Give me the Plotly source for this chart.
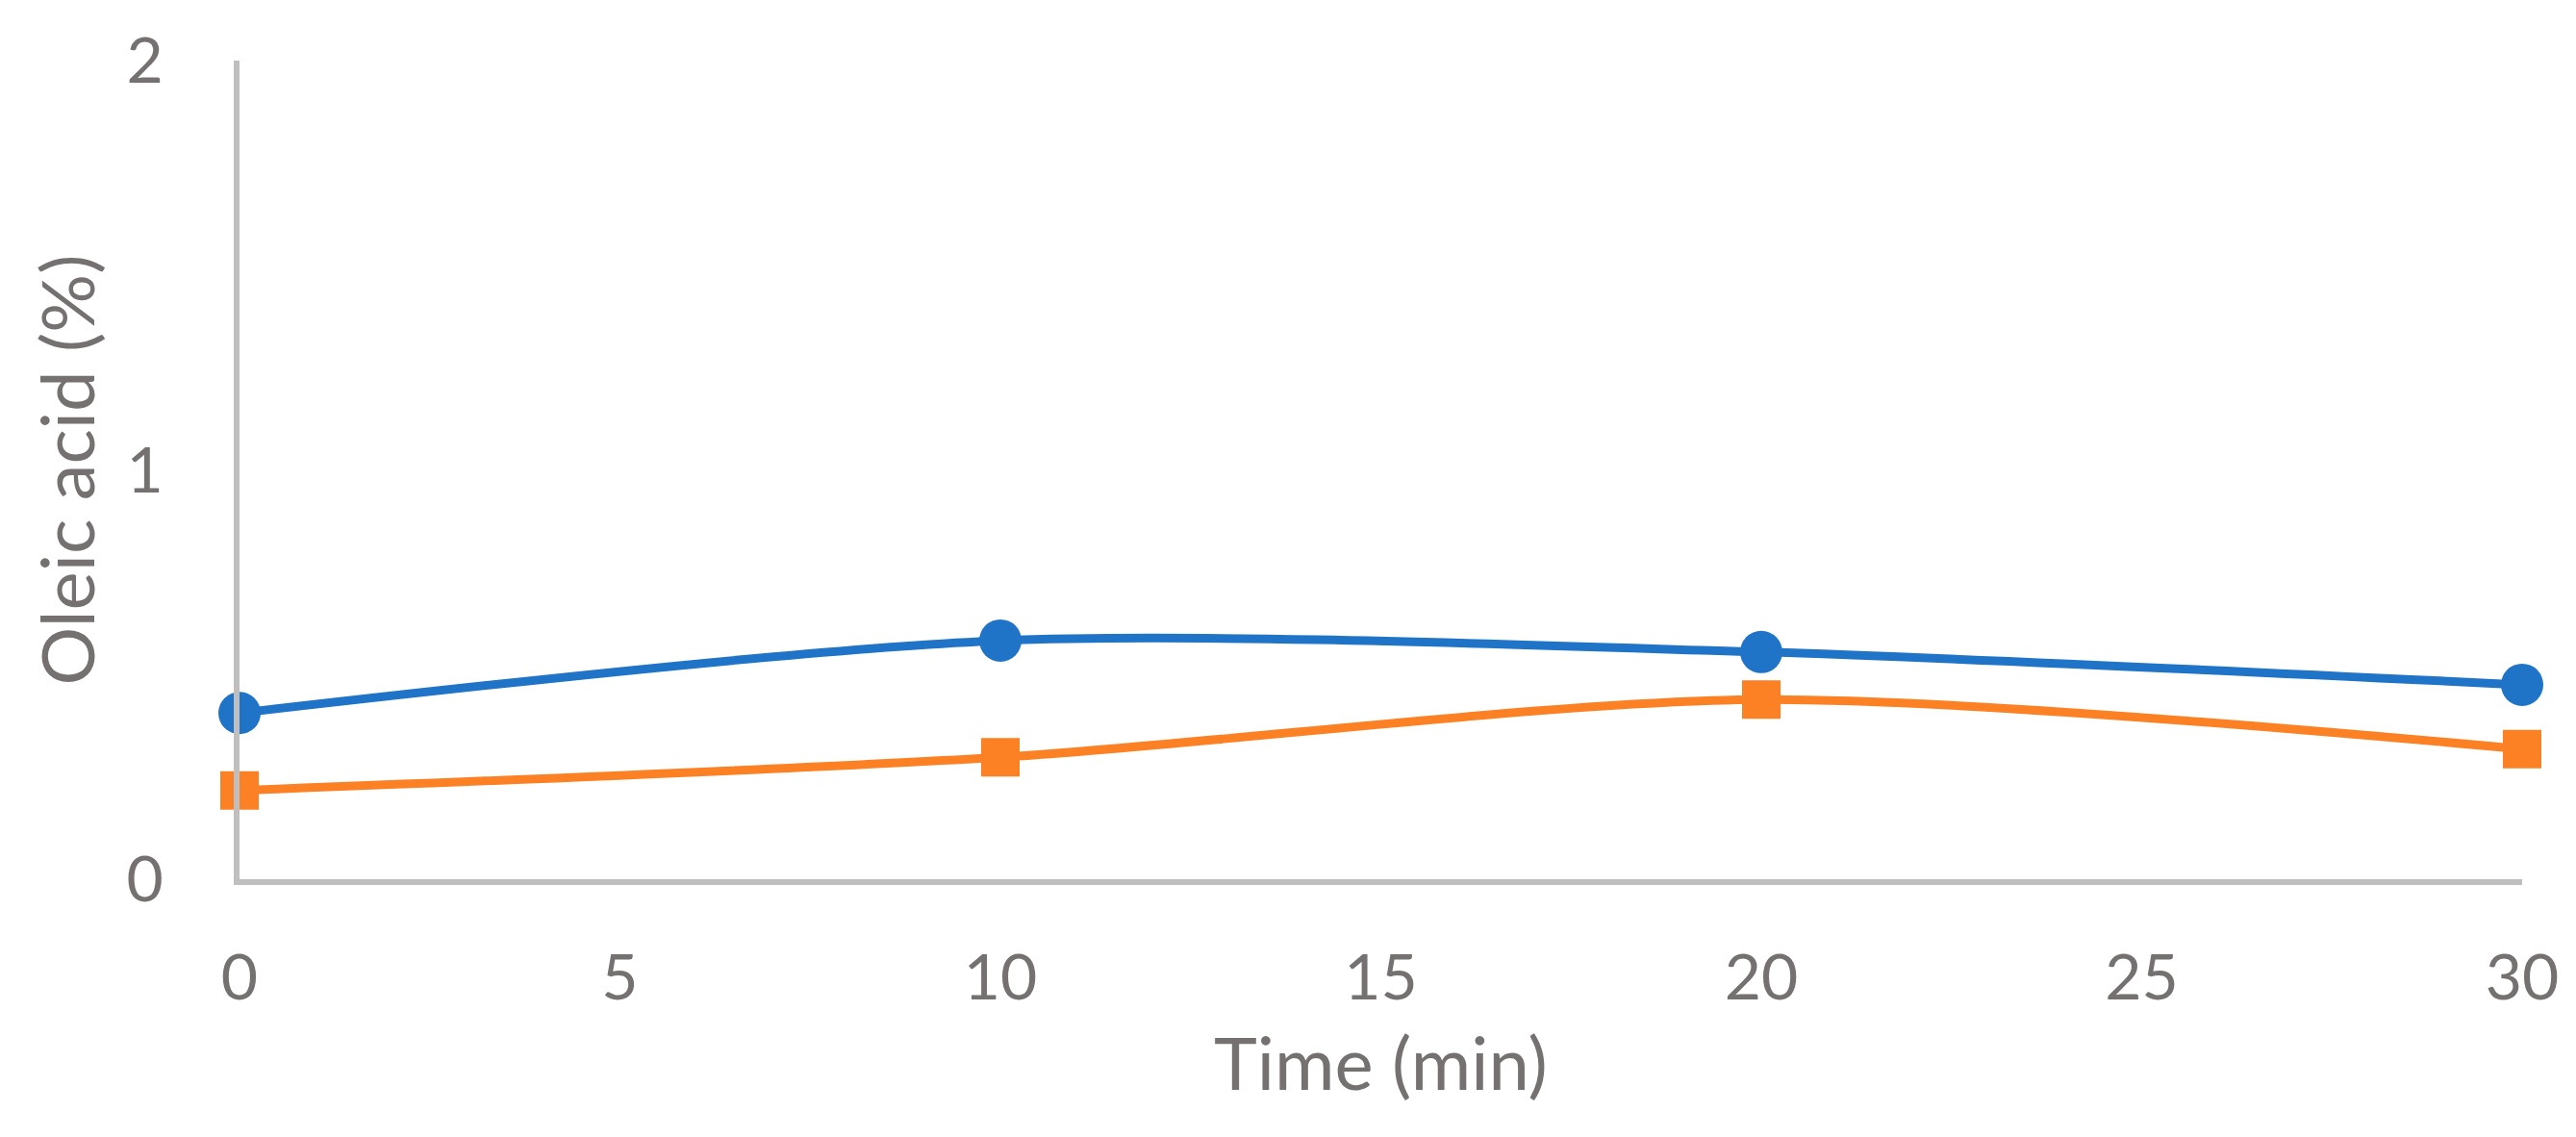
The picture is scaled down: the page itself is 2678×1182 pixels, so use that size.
import plotly.graph_objects as go

# ===========[ Data ]=========== #
time_min = [0, 10, 20, 30]
oleic_blue = [0.406, 0.583, 0.555, 0.475]
oleic_orange = [0.217, 0.298, 0.439, 0.318]
x_ticks = [0, 5, 10, 15, 20, 25, 30]
y_ticks = [0, 1, 2]

blue = "#1F74C8"
orange = "#FC8125"
grey = "#767171"
axis_grey = "#BFBFBF"

fig = go.Figure()
fig.add_trace(go.Scatter(x=time_min, y=oleic_blue, mode="lines+markers",
	line={"color": blue, "width": 9, "shape": "spline", "smoothing": 0.8},
	marker={"symbol": "circle", "size": 44, "color": blue}, cliponaxis=False))
fig.add_trace(go.Scatter(x=time_min, y=oleic_orange, mode="lines+markers",
	line={"color": orange, "width": 9, "shape": "spline", "smoothing": 0.8},
	marker={"symbol": "square", "size": 40, "color": orange}, cliponaxis=False))

fig.update_layout(width=2678, height=1182, showlegend=False,
	plot_bgcolor="white", paper_bgcolor="white",
	margin={"l": 241, "r": 64, "t": 55, "b": 276},
	font={"family": "Lato, Calibri, sans-serif", "color": grey})

fig.update_xaxes(range=[0, 30], tickvals=x_ticks, showgrid=False, zeroline=False,
	showline=True, linecolor=axis_grey, linewidth=6, ticks="",
	tickfont={"size": 66, "color": grey}, ticklabelstandoff=40,
	title={"text": "Time (min)", "font": {"size": 76, "color": grey}, "standoff": 30})
fig.update_yaxes(range=[0, 2], tickvals=y_ticks, showgrid=False, zeroline=False,
	showline=True, linecolor=axis_grey, linewidth=6, ticks="",
	tickfont={"size": 66, "color": grey}, ticklabelstandoff=60,
	title={"text": "Oleic acid (%)", "font": {"size": 76, "color": grey}, "standoff": 10})

fig.write_html("out.html")
